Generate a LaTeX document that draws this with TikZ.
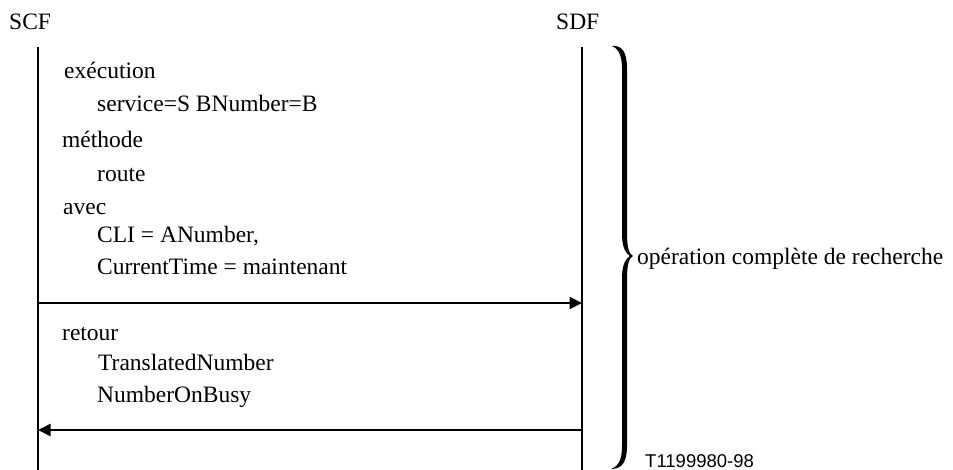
\documentclass[tikz,border=0pt]{standalone}
\usepackage{fontspec}
\setmainfont{Liberation Serif}
\newfontfamily\labelsans{Liberation Sans}
\usetikzlibrary{arrows.meta}
\begin{document}
\begin{tikzpicture}[x=1pt,y=-1pt,
  txt/.style={anchor=base west,inner sep=0pt,font=\fontsize{23.5}{28}\selectfont},
  lifeline/.style={line width=2.3pt},
  msg/.style={line width=2pt,-{Triangle[length=12.5pt,width=12pt]}},
  figref/.style={anchor=base west,inner sep=0pt,font=\labelsans\fontsize{18.5}{22}\selectfont}]
\useasboundingbox (0,0) rectangle (953,470);

% entities
\node[txt] (scf) at (9,30) {SCF};
\node[txt] (sdf) at (556,30) {SDF};

% lifelines
\coordinate (scftop) at (38,47);
\coordinate (scfbot) at (38,470);
\coordinate (sdftop) at (582,47);
\coordinate (sdfbot) at (582,470);
\draw[lifeline] (scftop) -- (scfbot);
\draw[lifeline] (sdftop) -- (sdfbot);

% request parameters
\node[txt] (exec) at (64,79) {exécution};
\node[txt] (serv) at (97,112) {service=S BNumber=B};
\node[txt] (meth) at (62,148) {méthode};
\node[txt] (rout) at (97,182) {route};
\node[txt] (avec) at (63,215) {avec};
\node[txt] (cli) at (97,243) {CLI = ANumber,};
\node[txt] (ctime) at (97,275) {CurrentTime = maintenant};

% request message
\coordinate (req1) at (38,303);
\coordinate (req2) at (582,303);
\draw[msg] (req1) -- (req2);

% result parameters
\node[txt] (ret) at (62,340) {retour};
\node[txt] (trans) at (98,370) {TranslatedNumber};
\node[txt] (busy) at (97,402) {NumberOnBusy};

% result message
\coordinate (res1) at (582,430);
\coordinate (res2) at (38,430);
\draw[msg] (res1) -- (res2);

% brace grouping the whole operation
\fill (612,46) .. controls (622,45) and (627,52) .. (627,69)
  -- (627,234) .. controls (627,247) and (629,254) .. (633,256)
  .. controls (629,258) and (627,265) .. (627,278)
  -- (627,446) .. controls (627,462) and (622,469) .. (611,469)
  .. controls (619,466) and (622,459) .. (622,446)
  -- (622,278) .. controls (622,266) and (625,259) .. (630,256)
  .. controls (625,253) and (622,246) .. (622,234)
  -- (622,69) .. controls (622,56) and (619,49) .. (612,46) -- cycle;
\node[txt] (op) at (637,265) {opération complète de recherche};

\node[figref] (ref) at (645,467) {T1199980-98};
\end{tikzpicture}
\end{document}
